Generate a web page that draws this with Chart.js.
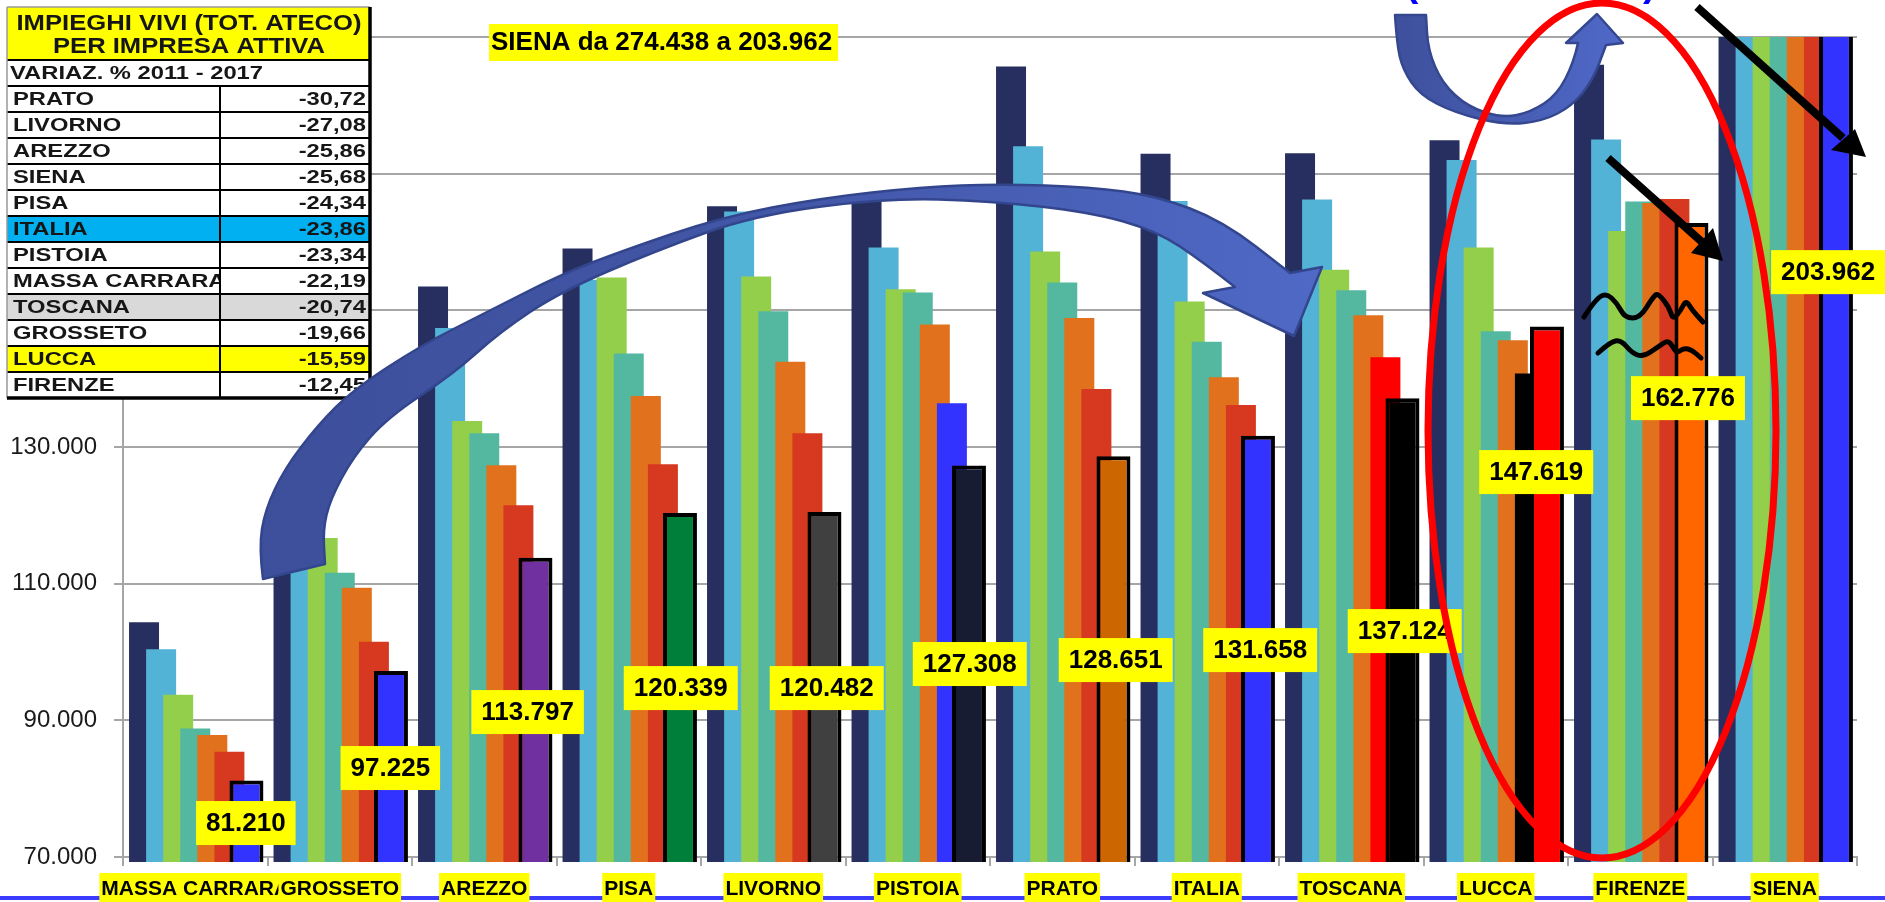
<!DOCTYPE html>
<html>
<head>
<meta charset="utf-8">
<script src="https://cdn.jsdelivr.net/npm/chart.js@4.4.1/dist/chart.umd.min.js"></script>
<style>
  html, body { margin: 0; padding: 0; background: #fff; overflow: hidden; }
  #wrap { width: 1885px; height: 902px; }
</style>
</head>
<body>
<div id="wrap"><canvas id="chart" width="1885" height="902"></canvas></div>
<script>
// categories and yearly values (impieghi vivi per impresa attiva)
const categories = ['MASSA CARRARA', 'GROSSETO', 'AREZZO', 'PISA', 'LIVORNO', 'PISTOIA',
  'PRATO', 'ITALIA', 'TOSCANA', 'LUCCA', 'FIRENZE', 'SIENA'];
const years = ['2011', '2012', '2013', '2014', '2015', '2016', '2017'];

const v2011 = [104370, 121017, 153489, 159052, 165225, 166068, 185697, 172916, 173006, 174883, 185924, 274438];
const v2012 = [100400, 117000, 147420, 154480, 164450, 159180, 174010, 166000, 166230, 171990, 174990, 262000];
const v2013 = [93750, 116670, 133800, 154800, 154960, 153100, 158610, 151310, 155930, 159180, 161610, 249000];
const v2014 = [88810, 111590, 132020, 143690, 149850, 152610, 154070, 145400, 152940, 146940, 165910, 237000];
const v2015 = [87840, 109400, 127320, 137450, 142480, 147910, 148880, 140210, 149290, 145640, 165700, 226000];
const v2016 = [85400, 101500, 121480, 127480, 132020, 136400, 138500, 136150, 143130, 140770, 166310, 214000];
const v2017 = [81210, 97225, 113797, 120339, 120482, 127308, 128651, 131658, 137124, 147619, 162776, 203962];

const yTicks = [70000, 90000, 110000, 130000, 150000, 170000, 190000];

// table: variazione % 2011 - 2017
const tableNames = ['PRATO', 'LIVORNO', 'AREZZO', 'SIENA', 'PISA', 'ITALIA', 'PISTOIA',
  'MASSA CARRARA', 'TOSCANA', 'GROSSETO', 'LUCCA', 'FIRENZE'];
const tableVar = ['-30,72', '-27,08', '-25,86', '-25,68', '-24,34', '-23,86', '-23,34',
  '-22,19', '-20,74', '-19,66', '-15,59', '-12,45'];

// colours
const baseColors = ['#262f5f', '#53b3d6', '#93cf4b', '#53b89f', '#e1711d', '#d6391f'];
const col2016 = categories.map(c => c === 'PISTOIA' ? '#3333ff'
  : c === 'TOSCANA' ? '#ff0000' : c === 'LUCCA' ? '#000000' : baseColors[5]);
const col2017 = ['#3333ff', '#3333ff', '#7030a0', '#007f3b', '#404040', '#181c32',
  '#cc6600', '#3333ff', '#000000', '#ff0000', '#ff6600', '#3333ff'];

// data label placement (fraction of category width, value position)
const labelShift = [0.35, 0.35, 0.30, 0.36, 0.37, 0.36, 0.37, 0.37, 0.37, 0.28, 0.33, 0.30];
const labelY = [74970, 83020, 91210, 94720, 94720, 98240, 98820, 100280, 103060, 126330, 137150, 155590];

const fmt = n => String(Math.round(n)).replace(/\B(?=(\d{3})+(?!\d))/g, '.');

const series = [v2011, v2012, v2013, v2014, v2015, v2016, v2017];
const datasets = series.map((vals, k) => ({
  label: years[k],
  data: vals,
  backgroundColor: k < 5 ? baseColors[k] : (k === 5 ? col2016 : col2017),
  borderColor: '#000',
  borderWidth: k === 6 ? 4 : 0,
  borderSkipped: false,
  barPercentage: k === 6 ? 1.99 : 1.757,
  categoryPercentage: 0.827
}));

// bars overlap, later years drawn on top of earlier ones
const orderedDraw = {
  id: 'orderedDraw',
  beforeDatasetsDraw(chart) {
    const ctx = chart.ctx, ca = chart.chartArea;
    for (let i = 0; i < chart.data.datasets.length; i++) {
      if (!chart.isDatasetVisible(i)) continue;
      ctx.save();
      ctx.beginPath();
      ctx.rect(ca.left - 5, ca.top, ca.right - ca.left + 10, ca.bottom - ca.top + 5);
      ctx.clip();
      chart.getDatasetMeta(i).controller.draw();
      ctx.restore();
    }
    return false;
  }
};

function stext(ctx, text, x, y, font, sx, align) {
  ctx.save();
  ctx.font = font;
  ctx.translate(x, y);
  ctx.scale(sx, 1);
  ctx.textAlign = align;
  ctx.textBaseline = 'middle';
  ctx.fillText(text, 0, 0);
  ctx.restore();
}

function fitText(ctx, text, cx, y, font, width) {
  ctx.font = font;
  const w = ctx.measureText(text).width;
  stext(ctx, text, cx, y, font, width / w, 'center');
}

function smooth(ctx, pts, first) {
  if (first) ctx.moveTo(pts[0][0], pts[0][1]); else ctx.lineTo(pts[0][0], pts[0][1]);
  for (let i = 1; i < pts.length - 1; i++) {
    const mx = (pts[i][0] + pts[i + 1][0]) / 2, my = (pts[i][1] + pts[i + 1][1]) / 2;
    ctx.quadraticCurveTo(pts[i][0], pts[i][1], mx, my);
  }
  const l = pts[pts.length - 1];
  ctx.lineTo(l[0], l[1]);
}

function drawTable(ctx) {
  const x0 = 7, x1 = 220, x2 = 370, rowH = 26, top = 86;
  const bottom = top + rowH * tableNames.length;
  ctx.save();
  ctx.fillStyle = '#fff';
  ctx.fillRect(x0, x0, x2 - x0, bottom - x0);
  ctx.fillStyle = '#ffff00';
  ctx.fillRect(x0, 7, x2 - x0, 53);
  tableNames.forEach((n, k) => {
    const bg = n === 'ITALIA' ? '#00b0f0' : n === 'TOSCANA' ? '#d9d9d9' : n === 'LUCCA' ? '#ffff00' : null;
    if (bg) { ctx.fillStyle = bg; ctx.fillRect(x0, top + k * rowH, x2 - x0, rowH); }
  });
  ctx.fillStyle = '#161616';
  fitText(ctx, 'IMPIEGHI VIVI (TOT. ATECO)', 189, 24, 'bold 22px "Liberation Sans"', 345);
  fitText(ctx, 'PER IMPRESA ATTIVA', 189, 47, 'bold 22px "Liberation Sans"', 272);
  stext(ctx, 'VARIAZ. % 2011 - 2017', 10, 74, 'bold 19px "Liberation Sans"', 1.25, 'left');
  tableNames.forEach((n, k) => {
    const yc = top + k * rowH + rowH / 2 + 1;
    ctx.save();
    ctx.beginPath();
    ctx.rect(x0, top + k * rowH, x1 - x0, rowH);
    ctx.clip();
    stext(ctx, n, 13, yc, 'bold 19px "Liberation Sans"', 1.25, 'left');
    ctx.restore();
    stext(ctx, tableVar[k], 366, yc, 'bold 19px "Liberation Sans"', 1.25, 'right');
  });
  ctx.strokeStyle = '#000';
  ctx.lineWidth = 2;
  ctx.beginPath();
  ctx.moveTo(x0, 60); ctx.lineTo(x2, 60);
  for (let k = 0; k <= tableNames.length; k++) {
    ctx.moveTo(x0, top + k * rowH); ctx.lineTo(x2, top + k * rowH);
  }
  ctx.moveTo(x1, top); ctx.lineTo(x1, bottom);
  ctx.stroke();
  ctx.strokeStyle = '#999';
  ctx.lineWidth = 1.5;
  ctx.beginPath();
  ctx.moveTo(x0, 7); ctx.lineTo(x2, 7);
  ctx.moveTo(x0, 7); ctx.lineTo(x0, bottom);
  ctx.stroke();
  ctx.strokeStyle = '#000';
  ctx.lineWidth = 3.5;
  ctx.beginPath();
  ctx.moveTo(x2, 7); ctx.lineTo(x2, bottom); ctx.lineTo(x0, bottom);
  ctx.stroke();
  ctx.restore();
}

const decorations = {
  id: 'decorations',
  afterDraw(chart) {
    const ctx = chart.ctx;
    const ca = chart.chartArea;
    const xs = chart.scales.x, ys = chart.scales.y;
    const catW = xs.getPixelForValue(1) - xs.getPixelForValue(0);
    const sx = ca.width / 1734, sy = ca.height / 820;
    const P = (x, y) => [ca.left + (x - 123) * sx, ca.top + (y - 37) * sy];
    const PP = arr => arr.map(p => P(p[0], p[1]));

    // value labels on the 2017 bars
    ctx.save();
    ctx.font = 'bold 26px "Liberation Sans"';
    ctx.textBaseline = 'middle';
    ctx.textAlign = 'center';
    v2017.forEach((v, i) => {
      const t = fmt(v);
      const cx = xs.getPixelForValue(i) + labelShift[i] * catW;
      const cy = ys.getPixelForValue(labelY[i]);
      const w = ctx.measureText(t).width + 20;
      ctx.fillStyle = '#ffff00';
      ctx.fillRect(cx - w / 2, cy - 22, w, 44);
      ctx.fillStyle = '#000';
      ctx.fillText(t, cx, cy + 1);
    });
    ctx.restore();

    // title box
    ctx.save();
    const title = 'SIENA da ' + fmt(v2011[11]) + ' a ' + fmt(v2017[11]);
    ctx.font = 'bold 26px "Liberation Sans"';
    const tw = ctx.measureText(title).width;
    const tp = P(489, 24);
    ctx.fillStyle = '#ffff00';
    ctx.fillRect(tp[0], tp[1], tw + 8, 37);
    ctx.fillStyle = '#000';
    ctx.textBaseline = 'middle';
    ctx.fillText(title, tp[0] + 2, tp[1] + 19);
    ctx.restore();

    // blue line at the bottom and category labels
    ctx.save();
    ctx.fillStyle = '#3b3bff';
    ctx.fillRect(0, ca.bottom + 39, chart.width, 4);
    ctx.font = 'bold 21px "Liberation Sans"';
    ctx.textBaseline = 'middle';
    ctx.textAlign = 'center';
    categories.forEach((c, i) => {
      const cx = xs.getPixelForValue(i);
      const w = ctx.measureText(c).width + 4;
      ctx.fillStyle = '#ffff00';
      ctx.fillRect(cx - w / 2, ca.bottom + 16, w, 30);
      ctx.fillStyle = '#000';
      ctx.fillText(c, cx, ca.bottom + 32);
    });
    ctx.restore();

    drawTable(ctx);

    // big curved arrow from Grosseto to Toscana
    ctx.save();
    const topEdge = PP([[263, 579], [259, 548], [265, 510], [285, 468], [318, 425], [353, 390], [420, 346],
      [487, 312], [560, 275], [622, 251], [722, 217], [822, 198], [922, 187], [1000, 184], [1090, 187],
      [1157, 196], [1223, 221], [1290, 273]]);
    const head = PP([[1322, 267], [1294, 336], [1203, 293], [1235, 287]]);
    const botEdge = PP([[1235, 287], [1203, 262], [1157, 231], [1090, 212], [990, 201], [888, 198],
      [755, 215], [655, 251], [560, 292], [500, 332], [453, 374], [387, 418], [353, 457], [330, 500],
      [323, 530], [325, 564]]);
    ctx.beginPath();
    smooth(ctx, topEdge, true);
    head.forEach(p => ctx.lineTo(p[0], p[1]));
    smooth(ctx, botEdge, false);
    ctx.closePath();
    const g = ctx.createLinearGradient(P(260, 0)[0], 0, P(1320, 0)[0], 0);
    g.addColorStop(0, '#3d4f9b');
    g.addColorStop(0.5, '#4357a8');
    g.addColorStop(1, '#4f69c6');
    ctx.fillStyle = g;
    ctx.fill();
    ctx.strokeStyle = '#33468d';
    ctx.lineWidth = 2.5;
    ctx.lineJoin = 'round';
    ctx.stroke();
    ctx.restore();

    // U-turn arrow at the top
    ctx.save();
    const uOuter = PP([[1395, 15], [1397, 45], [1403, 70], [1420, 95], [1455, 113], [1505, 125],
      [1543, 121], [1572, 106], [1593, 80], [1606, 45]]);
    const uHead = PP([[1623, 43], [1597, 14], [1566, 43], [1578, 43]]);
    const uInner = PP([[1578, 43], [1574, 62], [1557, 95], [1531, 112], [1503, 118], [1468, 107],
      [1442, 83], [1428, 50], [1426, 15]]);
    ctx.beginPath();
    smooth(ctx, uOuter, true);
    uHead.forEach(p => ctx.lineTo(p[0], p[1]));
    smooth(ctx, uInner, false);
    ctx.closePath();
    const g2 = ctx.createLinearGradient(P(1395, 0)[0], 0, P(1623, 0)[0], 0);
    g2.addColorStop(0, '#3e509c');
    g2.addColorStop(1, '#5069c9');
    ctx.fillStyle = g2;
    ctx.fill();
    ctx.strokeStyle = '#34478f';
    ctx.lineWidth = 2.5;
    ctx.lineJoin = 'round';
    ctx.stroke();
    ctx.restore();

    // blue parentheses cut at the top
    ctx.save();
    ctx.fillStyle = '#0000ff';
    ctx.font = 'bold 40px "Liberation Sans"';
    ctx.textBaseline = 'alphabetic';
    let q = P(1405, -4);
    ctx.fillText('(', q[0], q[1]);
    q = P(1643, -4);
    ctx.fillText(')', q[0], q[1]);
    ctx.restore();

    // red ellipse
    ctx.save();
    const ec = P(1602, 430.5);
    ctx.beginPath();
    ctx.ellipse(ec[0], ec[1], 174 * sx, 427.5 * sy, 0, 0, Math.PI * 2);
    ctx.strokeStyle = '#ff0000';
    ctx.lineWidth = 7;
    ctx.stroke();
    ctx.restore();

    // black arrows
    ctx.save();
    ctx.strokeStyle = '#000';
    ctx.fillStyle = '#000';
    ctx.lineWidth = 8;
    [[[1697, 7], [1843, 138], [1866, 157], [1831, 150], [1855, 129]],
     [[1608, 158], [1702, 242], [1723, 261], [1691, 253], [1713, 228]]].forEach(a => {
      const s = P(...a[0]), e = P(...a[1]), t = P(...a[2]), b1 = P(...a[3]), b2 = P(...a[4]);
      ctx.beginPath();
      ctx.moveTo(s[0], s[1]);
      ctx.lineTo(e[0], e[1]);
      ctx.stroke();
      ctx.beginPath();
      ctx.moveTo(t[0], t[1]);
      ctx.lineTo(b1[0], b1[1]);
      ctx.lineTo(b2[0], b2[1]);
      ctx.closePath();
      ctx.fill();
    });

    // squiggles
    ctx.lineWidth = 5;
    ctx.lineCap = 'round';
    ctx.lineJoin = 'round';
    [[[1584, 317], [1595, 300], [1606, 293], [1617, 303], [1625, 318], [1640, 318], [1653, 297],
      [1658, 293], [1669, 307], [1673, 320], [1681, 310], [1686, 300], [1692, 310], [1703, 322]],
     [[1598, 353], [1610, 342], [1621, 340], [1632, 353], [1643, 357], [1658, 347], [1668, 340],
      [1673, 347], [1677, 353], [1684, 348], [1692, 350], [1701, 358]]].forEach(s => {
      ctx.beginPath();
      smooth(ctx, PP(s), true);
      ctx.stroke();
    });
    ctx.restore();
  }
};

new Chart(document.getElementById('chart'), {
  type: 'bar',
  data: { labels: categories, datasets: datasets },
  options: {
    responsive: false,
    animation: false,
    devicePixelRatio: 1,
    layout: { padding: { top: 37, right: 28, left: 0, bottom: 0 } },
    plugins: { legend: { display: false }, tooltip: { enabled: false } },
    scales: {
      x: {
        offset: true,
        grid: { offset: true, drawOnChartArea: false, drawTicks: true, tickLength: 9, color: '#a6a6a6', lineWidth: 2 },
        border: { display: true, color: '#a6a6a6', width: 2 },
        ticks: { display: false },
        afterFit: s => { s.height = 45; }
      },
      y: {
        min: yTicks[0],
        max: yTicks[yTicks.length - 1],
        afterBuildTicks: s => { s.ticks = yTicks.map(v => ({ value: v })); },
        ticks: {
          callback: v => fmt(v),
          font: { family: 'Liberation Sans', size: 24 },
          color: '#1a1a1a',
          padding: 17
        },
        grid: { color: '#a6a6a6', lineWidth: 2, tickLength: 9 },
        border: { display: true, color: '#a6a6a6', width: 2 },
        afterFit: s => { s.width = 123; }
      }
    }
  },
  plugins: [orderedDraw, decorations]
});
</script>
</body>
</html>
